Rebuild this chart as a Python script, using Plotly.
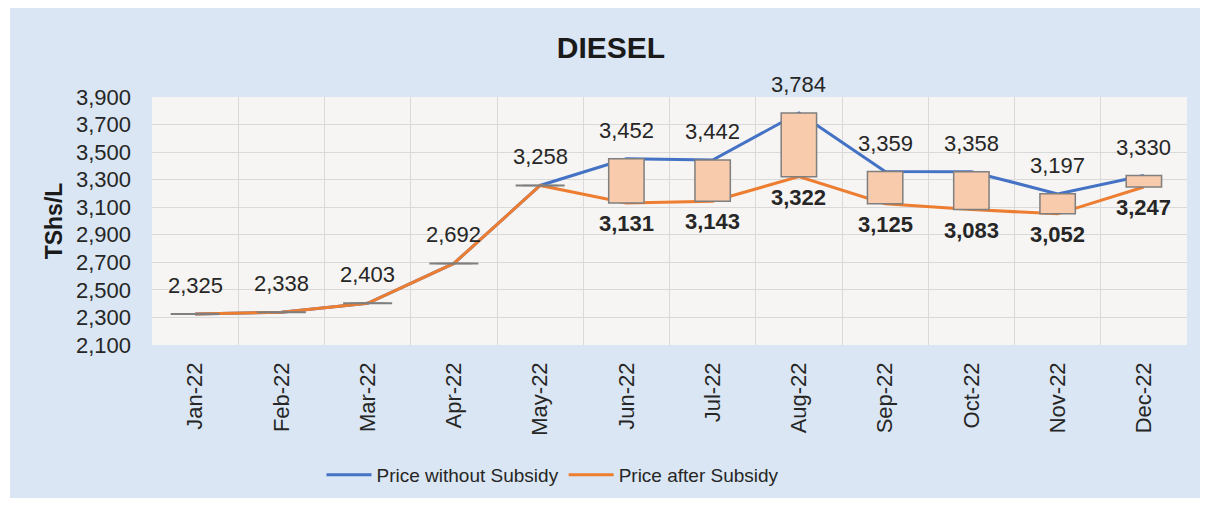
import plotly.graph_objects as go

months = ["Jan-22", "Feb-22", "Mar-22", "Apr-22", "May-22", "Jun-22",
          "Jul-22", "Aug-22", "Sep-22", "Oct-22", "Nov-22", "Dec-22"]
price_without_subsidy = [2325, 2338, 2403, 2692, 3258, 3452, 3442, 3784, 3359, 3358, 3197, 3330]
price_after_subsidy = [2325, 2338, 2403, 2692, 3258, 3131, 3143, 3322, 3125, 3083, 3052, 3247]
y_ticks = [2100, 2300, 2500, 2700, 2900, 3100, 3300, 3500, 3700, 3900]

BLUE = "#4472C4"
ORANGE = "#ED7D31"
FONT = "Liberation Sans"
TXT = "#262626"

diff = [a - b for a, b in zip(price_without_subsidy, price_after_subsidy)]

fig = go.Figure()

fig.add_trace(go.Scatter(x=months, y=price_without_subsidy, mode="lines",
                         name="Price without Subsidy",
                         line=dict(color=BLUE, width=3)))
fig.add_trace(go.Scatter(x=months, y=price_after_subsidy, mode="lines",
                         name="Price after Subsidy",
                         line=dict(color=ORANGE, width=3)))

# up/down bars on an overlaying axis so they sit above the lines
fig.add_trace(go.Bar(x=months, y=diff, base=price_after_subsidy, width=0.41,
                     marker=dict(color="#F8CBAD", line=dict(color="#7F7F7F", width=1.5)),
                     xaxis="x2", yaxis="y2", showlegend=False, hoverinfo="skip"))
flat_x = [m for m, d in zip(months, diff) if d == 0]
flat_y = [v for v, d in zip(price_after_subsidy, diff) if d == 0]
fig.add_trace(go.Scatter(x=flat_x, y=flat_y, mode="markers",
                         marker=dict(symbol="line-ew", size=35,
                                     line=dict(color="#7F7F7F", width=2)),
                         xaxis="x2", yaxis="y2", showlegend=False, hoverinfo="skip"))

annotations = []
for m, v in zip(months, price_without_subsidy):
    annotations.append(dict(x=m, y=v, text=f"{v:,}", showarrow=False,
                            yanchor="bottom", yshift=14,
                            font=dict(family=FONT, size=22, color=TXT)))
for m, v, d in zip(months, price_after_subsidy, diff):
    if d == 0:
        continue
    annotations.append(dict(x=m, y=v, text=f"<b>{v:,}</b>", showarrow=False,
                            yanchor="top", yshift=-6,
                            font=dict(family=FONT, size=22, color=TXT)))

# page offset of 8px (body margin) is removed from all page coordinates
W, H = 1202, 498
L, T = 152 - 8, 97 - 8
R = W - (1187 - 8)
B = H - (345 - 8)
pw, ph = W - L - R, H - T - B
shapes = [
    dict(type="rect", xref="paper", yref="paper", layer="below",
         x0=(2 - L) / pw, x1=(1192 - L) / pw,
         y0=(H - B - 490) / ph, y1=(H - B - 0) / ph,
         fillcolor="#DAE6F3", line=dict(width=0)),
    dict(type="rect", xref="paper", yref="paper", layer="below",
         x0=0, x1=1, y0=0, y1=1,
         fillcolor="#F6F5F3", line=dict(width=0)),
]

fig.update_layout(
    width=W, height=H,
    margin=dict(l=L, r=R, t=T, b=B),
    paper_bgcolor="white",
    plot_bgcolor="#F6F5F3",
    font=dict(family=FONT, color=TXT),
    title=dict(text="<b>DIESEL</b>", x=(611 - 8) / W, xref="container", xanchor="center",
               y=1 - 39 / H, yref="container", yanchor="middle",
               font=dict(family=FONT, size=30, color="#1a1a1a")),
    xaxis=dict(type="category", categoryorder="array", categoryarray=months,
               range=[-0.5, 11.5], tickangle=-90, tickson="boundaries",
               showgrid=True, gridcolor="#D9D9D9", gridwidth=1,
               ticks="", ticklabelstandoff=12,
               tickfont=dict(family=FONT, size=22, color=TXT),
               showline=False, zeroline=False),
    yaxis=dict(range=[2100, 3900], tickvals=y_ticks, tickformat=",",
               showgrid=True, gridcolor="#D9D9D9", gridwidth=1,
               ticks="", ticklabelstandoff=20,
               tickfont=dict(family=FONT, size=22, color=TXT),
               title=dict(text="<b>TShs/L</b>", standoff=6,
                          font=dict(family=FONT, size=23, color="#1a1a1a")),
               showline=False, zeroline=False),
    xaxis2=dict(type="category", categoryorder="array", categoryarray=months,
                range=[-0.5, 11.5], overlaying="x", visible=False),
    yaxis2=dict(range=[2100, 3900], overlaying="y", visible=False),
    legend=dict(orientation="h", x=(553 - 152) / pw, xanchor="center",
                y=(H - B - (475 - 8)) / ph, yanchor="middle",
                font=dict(family=FONT, size=19, color=TXT),
                bgcolor="rgba(0,0,0,0)", itemwidth=45),
    annotations=annotations,
    shapes=shapes,
    showlegend=True,
)

fig.write_html("out.html")
